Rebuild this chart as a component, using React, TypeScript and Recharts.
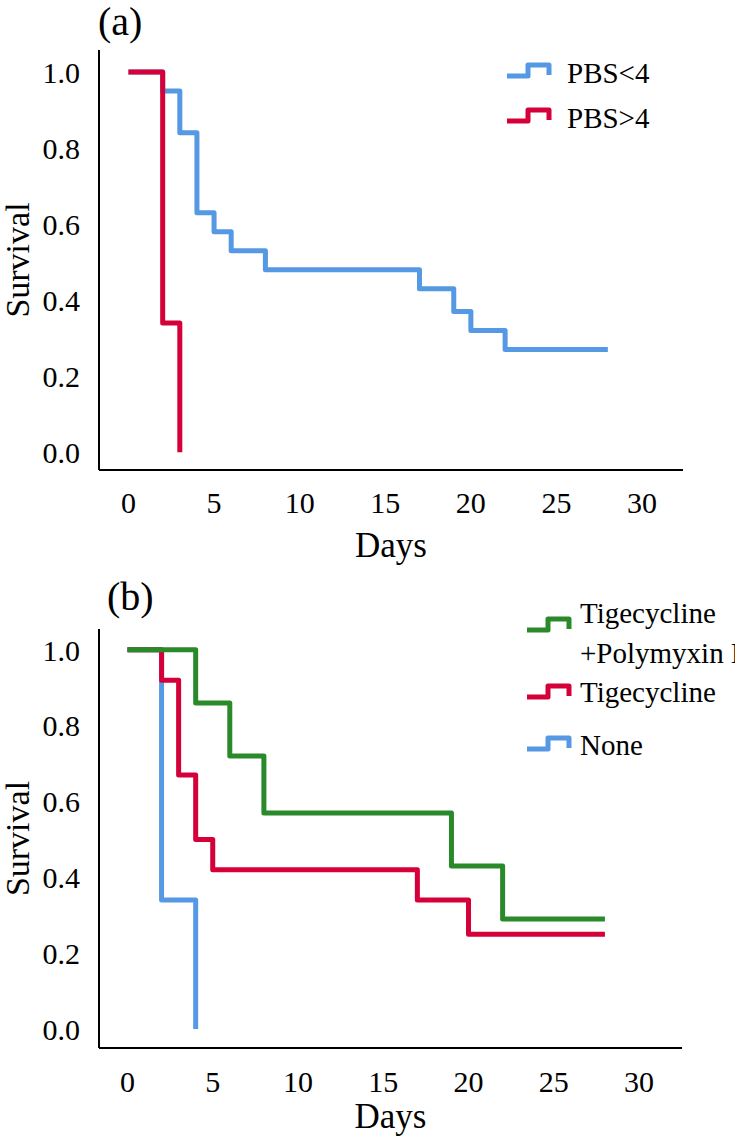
import React from 'react';
import { LineChart, Line, XAxis, YAxis } from 'recharts';

// survival steps (day of the drop, survival after it)
const daysPbsLow = [0, 2, 3, 4, 5, 6, 8, 17, 19, 20, 22, 28];
const survPbsLow = [1.0, 0.95, 0.84, 0.63, 0.58, 0.53, 0.48, 0.43, 0.37, 0.32, 0.27, 0.27];
const daysPbsHigh = [0, 2, 3];
const survPbsHigh = [1.0, 0.34, 0.0];

const daysCombo = [0, 4, 6, 8, 19, 22, 28];
const survCombo = [1.0, 0.86, 0.72, 0.57, 0.43, 0.29, 0.29];
const daysTige = [0, 2, 3, 4, 5, 17, 20, 28];
const survTige = [1.0, 0.92, 0.67, 0.5, 0.42, 0.34, 0.25, 0.25];
const daysNone = [0, 2, 4];
const survNone = [1.0, 0.34, 0.0];

const dayTicks = [0, 5, 10, 15, 20, 25, 30];
const survTicks = [0, 0.2, 0.4, 0.6, 0.8, 1.0];

const namesA = ['PBS<4', 'PBS>4'];
const namesB = ['Tigecycline\n+Polymyxin B', 'Tigecycline', 'None'];

const BLUE = '#5598e4';
const RED = '#d5003a';
const GREEN = '#2a8a2a';
const FONT = '"Liberation Serif", "Times New Roman", Times, serif';

const toPoints = (days: number[], surv: number[]) =>
  days.map((d, i) => ({ day: d, surv: surv[i] }));

interface Series {
  name: string;
  color: string;
  data: { day: number; surv: number }[];
}

interface PanelProps {
  series: Series[];
  height: number;
  margin: { top: number; right: number; left: number; bottom: number };
  xDomain: [number, number];
  yDomain: [number, number];
  tickMarginX: number;
  labelOffset: number;
}

const tickStyle = { fontSize: 30, fill: '#000', fontFamily: FONT, style: { fontFamily: FONT } };

const KmPanel = ({ series, height, margin, xDomain, yDomain, tickMarginX, labelOffset }: PanelProps) => (
  <LineChart width={735} height={height} margin={margin} style={{ fontFamily: FONT }}>
    <XAxis
      type="number"
      dataKey="day"
      domain={xDomain}
      ticks={dayTicks}
      allowDataOverflow
      height={50}
      fontSize={30}
      fontFamily={FONT}
      tickLine={false}
      tickMargin={tickMarginX}
      axisLine={{ stroke: '#000', strokeWidth: 2 }}
      tick={tickStyle}
      label={{
        value: 'Days',
        position: 'bottom',
        offset: labelOffset,
        style: { fontSize: 35, fill: '#000', fontFamily: FONT },
      }}
    />
    <YAxis
      type="number"
      domain={yDomain}
      ticks={survTicks}
      allowDataOverflow
      width={99}
      fontSize={30}
      fontFamily={FONT}
      tickLine={false}
      tickMargin={13}
      axisLine={{ stroke: '#000', strokeWidth: 2 }}
      tick={tickStyle}
      tickFormatter={(v: number) => v.toFixed(1)}
      label={{
        value: 'Survival',
        angle: -90,
        position: 'insideLeft',
        offset: 17,
        style: { textAnchor: 'middle', fontSize: 34, fill: '#000', fontFamily: FONT },
      }}
    />
    {series.map((s) => (
      <Line
        key={s.name}
        data={s.data}
        dataKey="surv"
        type="stepAfter"
        stroke={s.color}
        strokeWidth={5}
        strokeLinejoin="round"
        dot={false}
        activeDot={false}
        isAnimationActive={false}
      />
    ))}
  </LineChart>
);

const StepIcon = ({ color }: { color: string }) => (
  <svg width={46} height={22} style={{ display: 'block' }}>
    <path d="M0,16 H21 V5 H42 V15" fill="none" stroke={color} strokeWidth={5} strokeLinejoin="round" />
  </svg>
);

interface LegendItem {
  name: string;
  color: string;
  textY: number;
  iconY: number;
}

const KmLegend = ({ items, iconX, textX }: { items: LegendItem[]; iconX: number; textX: number }) => (
  <>
    {items.map((it) => (
      <React.Fragment key={it.name}>
        <div style={{ position: 'absolute', left: iconX, top: it.iconY - 11 }}>
          <StepIcon color={it.color} />
        </div>
        <div
          style={{
            position: 'absolute',
            left: textX,
            top: it.textY - 20,
            fontFamily: FONT,
            fontSize: 29,
            lineHeight: '40px',
            whiteSpace: 'pre',
            color: '#000',
          }}
        >
          {it.name}
        </div>
      </React.Fragment>
    ))}
  </>
);

const panelLabel = (text: string, left: number, top: number) => (
  <div
    style={{
      position: 'absolute',
      left,
      top,
      fontFamily: FONT,
      fontSize: 40,
      lineHeight: '40px',
      color: '#000',
    }}
  >
    {text}
  </div>
);

export default function App() {
  const seriesA: Series[] = [
    { name: namesA[0], color: BLUE, data: toPoints(daysPbsLow, survPbsLow) },
    { name: namesA[1], color: RED, data: toPoints(daysPbsHigh, survPbsHigh) },
  ];
  const seriesB: Series[] = [
    { name: namesB[2], color: BLUE, data: toPoints(daysNone, survNone) },
    { name: namesB[1], color: RED, data: toPoints(daysTige, survTige) },
    { name: namesB[0], color: GREEN, data: toPoints(daysCombo, survCombo) },
  ];

  return (
    <div
      style={{
        position: 'absolute',
        left: 0,
        top: 0,
        width: 735,
        height: 1138,
        overflow: 'hidden',
        background: '#fff',
        fontFamily: FONT,
      }}
    >
      <div style={{ position: 'absolute', left: 0, top: 0 }}>
        <KmPanel
          series={seriesA}
          height={570}
          margin={{ top: 50, right: 52, left: 0, bottom: 50 }}
          xDomain={[-1.72, 32.39]}
          yDomain={[-0.047, 1.058]}
          tickMarginX={16}
          labelOffset={12}
        />
      </div>
      <div style={{ position: 'absolute', left: 0, top: 580 }}>
        <KmPanel
          series={seriesB}
          height={558}
          margin={{ top: 49, right: 53, left: 0, bottom: 40 }}
          xDomain={[-1.67, 32.52]}
          yDomain={[-0.05, 1.055]}
          tickMarginX={17}
          labelOffset={5}
        />
      </div>
      {panelLabel('(a)', 98, 1.5)}
      {panelLabel('(b)', 107, 576.5)}
      <KmLegend
        iconX={507}
        textX={567}
        items={[
          { name: namesA[0], color: BLUE, textY: 73, iconY: 71 },
          { name: namesA[1], color: RED, textY: 118, iconY: 116 },
        ]}
      />
      <KmLegend
        iconX={527}
        textX={580}
        items={[
          { name: namesB[0], color: GREEN, textY: 613, iconY: 625 },
          { name: namesB[1], color: RED, textY: 692, iconY: 692 },
          { name: namesB[2], color: BLUE, textY: 745, iconY: 744 },
        ]}
      />
    </div>
  );
}
